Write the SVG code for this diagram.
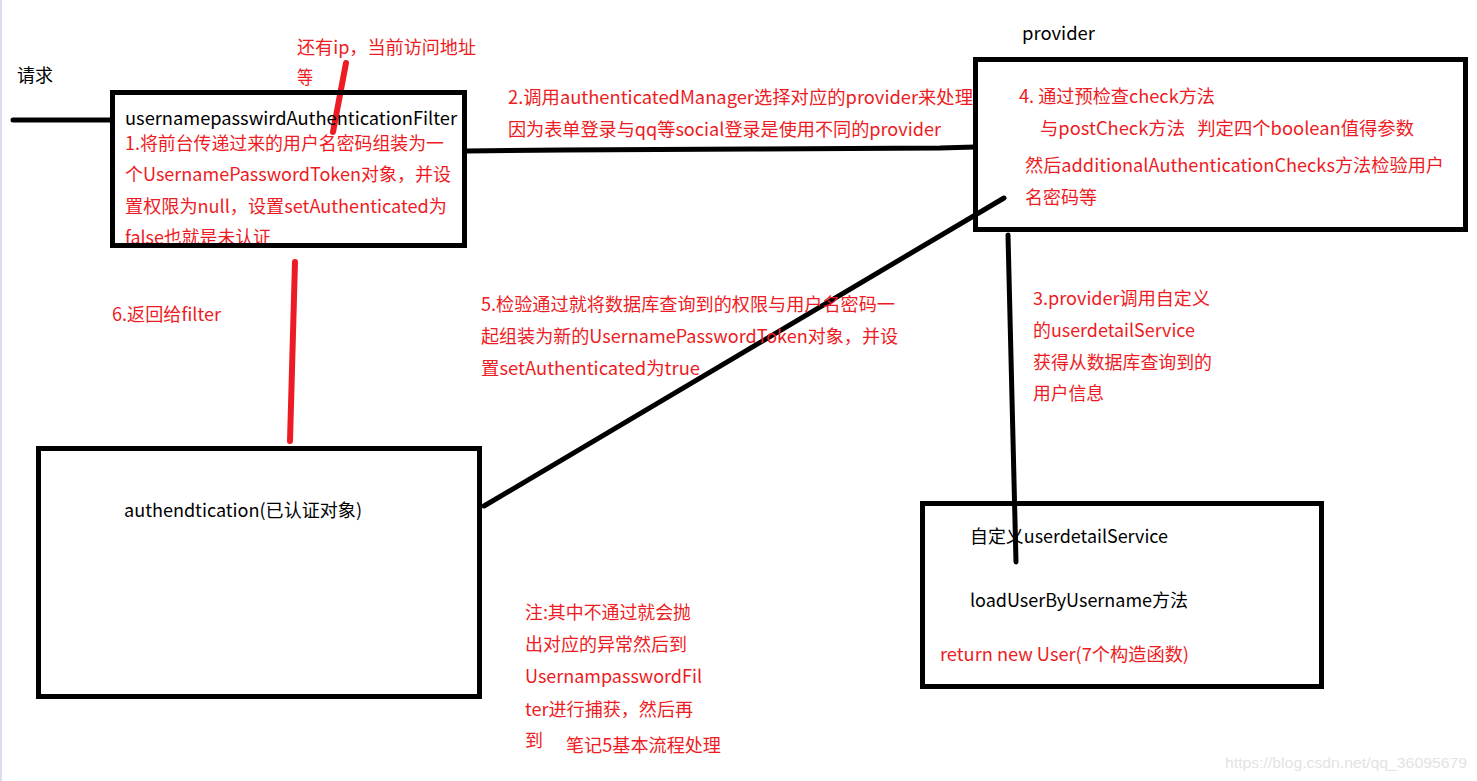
<svg xmlns="http://www.w3.org/2000/svg" width="1477" height="781" viewBox="0 0 1477 781">
<style>
text{font-family:"Noto Sans CJK SC","Noto Sans",sans-serif;font-size:18px}
.k{fill:#000}
.r{fill:#ed1c24}
.box{fill:none;stroke:#000;stroke-width:5}
.bl{stroke:#000;stroke-width:5;stroke-linecap:round;fill:none}
.rl{stroke:#ed1c24;stroke-width:6;stroke-linecap:round;fill:none}
.wm{font-family:"Liberation Sans",Arial,sans-serif;font-size:15px;fill:#e3e3e3}
</style>
<rect x="0" y="0" width="1477" height="781" fill="#fff"/>
<rect x="0" y="0" width="2" height="781" fill="#d9dfea"/>

<g id="connectors">
  <line class="bl" x1="13" y1="120" x2="112" y2="120"/>
  <polyline class="bl" points="467,151 563,150 752,149 940,148 975,147"/>
  <line class="bl" x1="1004" y1="198" x2="484" y2="506"/>
  <line class="bl" x1="1008" y1="235" x2="1016" y2="562"/>
  <line class="rl" x1="295" y1="262" x2="290" y2="441"/>
  <line class="rl" x1="346" y1="63" x2="333" y2="132"/>
</g>

<g id="label-request">
  <text class="k" x="17" y="82" textLength="36" lengthAdjust="spacingAndGlyphs">请求</text>
</g>
<g id="label-ip">
  <text class="r" x="297" y="54" textLength="179" lengthAdjust="spacingAndGlyphs">还有ip，当前访问地址</text>
  <text class="r" x="297" y="84" textLength="16" lengthAdjust="spacingAndGlyphs">等</text>
</g>

<g id="node-filter">
  <text class="k" x="125" y="125" textLength="332" lengthAdjust="spacingAndGlyphs">usernamepasswirdAuthenticationFilter</text>
  <text class="r" x="125" y="150" textLength="319" lengthAdjust="spacingAndGlyphs">1.将前台传递过来的用户名密码组装为一</text>
  <text class="r" x="125" y="181" textLength="326" lengthAdjust="spacingAndGlyphs">个UsernamePasswordToken对象，并设</text>
  <text class="r" x="125" y="213" textLength="322" lengthAdjust="spacingAndGlyphs">置权限为null，设置setAuthenticated为</text>
  <text class="r" x="125" y="244" textLength="146" lengthAdjust="spacingAndGlyphs">false也就是未认证</text>
  <rect class="box" x="112.5" y="92.5" width="352" height="153"/>
</g>

<g id="label-step2">
  <text class="r" x="508" y="104" textLength="465" lengthAdjust="spacingAndGlyphs">2.调用authenticatedManager选择对应的provider来处理</text>
  <text class="r" x="508" y="136" textLength="433" lengthAdjust="spacingAndGlyphs">因为表单登录与qq等social登录是使用不同的provider</text>
</g>

<g id="node-provider">
  <text class="k" x="1022" y="40" textLength="73" lengthAdjust="spacingAndGlyphs">provider</text>
  <rect class="box" x="975.5" y="59.5" width="490" height="170"/>
  <text class="r" x="1019" y="103" textLength="196" lengthAdjust="spacingAndGlyphs">4. 通过预检查check方法</text>
  <text class="r" x="1040" y="135" xml:space="preserve" style="white-space:pre" textLength="374" lengthAdjust="spacingAndGlyphs">与postCheck方法   判定四个boolean值得参数</text>
  <text class="r" x="1025" y="172" textLength="419" lengthAdjust="spacingAndGlyphs">然后additionalAuthenticationChecks方法检验用户</text>
  <text class="r" x="1025" y="204" textLength="72" lengthAdjust="spacingAndGlyphs">名密码等</text>
</g>

<g id="label-step5">
  <text class="r" x="481" y="311" textLength="414" lengthAdjust="spacingAndGlyphs">5.检验通过就将数据库查询到的权限与用户名密码一</text>
  <text class="r" x="481" y="343" textLength="417" lengthAdjust="spacingAndGlyphs">起组装为新的UsernamePasswordToken对象，并设</text>
  <text class="r" x="481" y="375" textLength="219" lengthAdjust="spacingAndGlyphs">置setAuthenticated为true</text>
</g>

<g id="label-step6">
  <text class="r" x="112" y="321" textLength="109" lengthAdjust="spacingAndGlyphs">6.返回给filter</text>
</g>

<g id="label-step3">
  <text class="r" x="1033" y="305" textLength="177" lengthAdjust="spacingAndGlyphs">3.provider调用自定义</text>
  <text class="r" x="1033" y="337" textLength="162" lengthAdjust="spacingAndGlyphs">的userdetailService</text>
  <text class="r" x="1033" y="369" textLength="179" lengthAdjust="spacingAndGlyphs">获得从数据库查询到的</text>
  <text class="r" x="1033" y="400" textLength="71" lengthAdjust="spacingAndGlyphs">用户信息</text>
</g>

<g id="node-authentication">
  <rect class="box" x="38.5" y="448.5" width="441" height="248"/>
  <text class="k" x="124" y="517" textLength="238" lengthAdjust="spacingAndGlyphs">authendtication(已认证对象)</text>
</g>

<g id="node-userdetailservice">
  <rect class="box" x="922.5" y="503.5" width="399" height="183"/>
  <text class="k" x="970" y="543" textLength="198" lengthAdjust="spacingAndGlyphs">自定义userdetailService</text>
  <text class="k" x="970" y="607" textLength="218" lengthAdjust="spacingAndGlyphs">loadUserByUsername方法</text>
  <text class="r" x="940" y="661" textLength="249" lengthAdjust="spacingAndGlyphs">return new User(7个构造函数)</text>
</g>

<g id="label-note">
  <text class="r" x="525" y="619" textLength="166" lengthAdjust="spacingAndGlyphs">注:其中不通过就会抛</text>
  <text class="r" x="525" y="651" textLength="162" lengthAdjust="spacingAndGlyphs">出对应的异常然后到</text>
  <text class="r" x="525" y="683" textLength="177" lengthAdjust="spacingAndGlyphs">UsernampasswordFil</text>
  <text class="r" x="525" y="716" textLength="168" lengthAdjust="spacingAndGlyphs">ter进行捕获，然后再</text>
  <text class="r" x="525" y="747" textLength="18" lengthAdjust="spacingAndGlyphs">到</text>
  <text class="r" x="566" y="752" textLength="155" lengthAdjust="spacingAndGlyphs">笔记5基本流程处理</text>
</g>

<text class="wm" x="1225" y="768" textLength="242" lengthAdjust="spacingAndGlyphs">https://blog.csdn.net/qq_36095679</text>
</svg>
